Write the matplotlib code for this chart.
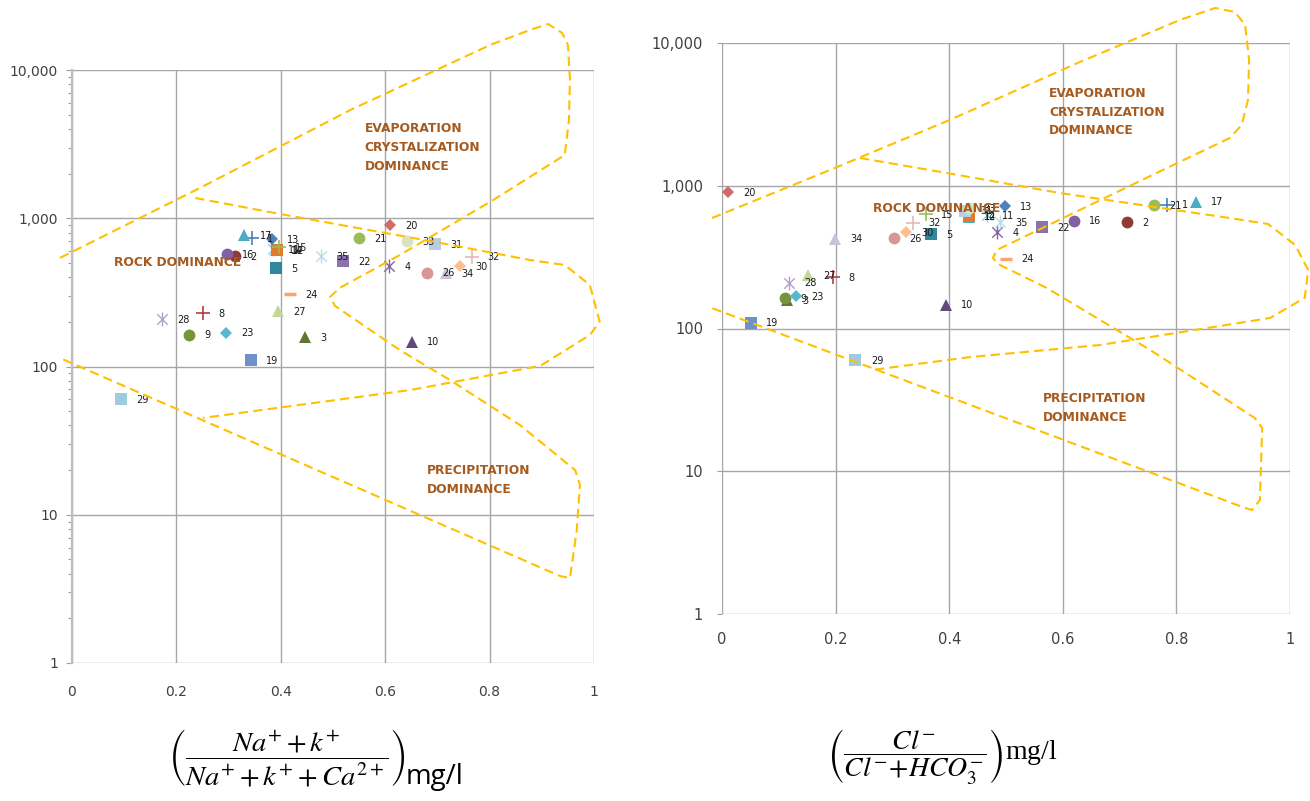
import numpy as np
import matplotlib
matplotlib.use('Agg')
import matplotlib.pyplot as plt
from matplotlib.path import Path
from matplotlib.ticker import FixedLocator, NullFormatter, LogLocator

plt.rcParams['font.family'] = ['DejaVu Sans']
plt.rcParams['mathtext.fontset'] = 'stix'

# ---------------- data ----------------
samples = [1, 2, 3, 4, 5, 8, 9, 10, 11, 14, 12, 13, 15, 16, 17, 19, 20, 21, 22,
           23, 24, 26, 27, 28, 29, 30, 31, 32, 33, 34, 35]
na_ratio = [0.345, 0.312, 0.446, 0.607, 0.391, 0.251, 0.224, 0.651, 0.385, 0.390,
            0.393, 0.383, 0.397, 0.297, 0.330, 0.343, 0.609, 0.550, 0.519, 0.295,
            0.418, 0.680, 0.395, 0.172, 0.094, 0.743, 0.695, 0.766, 0.642, 0.716, 0.477]
cl_ratio = [0.783, 0.713, 0.114, 0.484, 0.368, 0.196, 0.111, 0.394, 0.466, 0.435,
            0.435, 0.498, 0.359, 0.620, 0.834, 0.0505, 0.011, 0.761, 0.563, 0.130,
            0.4995, 0.302, 0.152, 0.1185, 0.235, 0.324, 0.428, 0.336, 0.434, 0.199, 0.489]
tds = [738, 555, 158, 473, 460, 228, 164, 147, 620, 608, 611, 723, 636, 570, 772,
       110, 897, 732, 512, 169, 308, 430, 237, 209, 60, 473, 670, 551, 700, 425, 554]
marker_kind = ['+', 'o', '^', 'ast', 's', '+', 'o', '^', 'ast', '^', 's', 'D', '+',
               'o', '^', 's', 'D', 'o', 's', 'D', '_', 'o', '^', 'ast', 's', 'D',
               's', '+', 'o', '^', 'ast']
marker_color = ['#4A7EBB', '#8E3B38', '#5F7530', '#8064A2', '#31859C', '#B0413E',
                '#77933C', '#604A7B', '#93CDDD', '#4BACC6', '#E07B2E', '#4F81BD',
                '#9BBB59', '#7E62A4', '#4BACC6', '#6E91C9', '#CD6C6A', '#9BBB59',
                '#8A72AD', '#5BB6CF', '#F9A66C', '#D99694', '#C3D69B', '#B3A2C7',
                '#9FCCDD', '#FAC090', '#B9CDE5', '#E6B9B8', '#D7E4BD', '#CCC1DA',
                '#B7DEE8']

y_ticks = [1, 10, 100, 1000, 10000]
y_tick_labels = ['1', '10', '100', '1,000', '10,000']
x_ticks = [0, 0.2, 0.4, 0.6, 0.8, 1.0]
x_tick_labels = ['0', '0.2', '0.4', '0.6', '0.8', '1']

# Gibbs envelopes (data coordinates)  -- left chart
left_outer_x = [-0.023, 0.245, 0.533, 0.801, 0.877, 0.912, 0.939, 0.950, 0.954, 0.952,
                0.944, 0.807, 0.628, 0.513, 0.494, 0.504, 0.628, 0.724, 0.858, 0.964,
                0.973, 0.967, 0.954, 0.935, -0.023]
left_outer_y = [540, 1600, 5370, 14750, 18600, 20420, 17780, 14750, 8570, 4600,
                2670, 1328, 565, 339, 294, 256, 129, 81.1, 40.3, 20.0,
                15.9, 7.89, 3.74, 3.86, 114]
left_rock_x = [0.236, 0.398, 0.686, 0.877, 0.944, 0.992, 1.011, 0.992, 0.897, 0.648, 0.251]
left_rock_y = [1370, 1069, 702, 523, 484, 355, 200, 163, 101, 69.4, 45]
# right chart
right_outer_x = [-0.0176, 0.190, 0.401, 0.630, 0.806, 0.868, 0.903, 0.921, 0.928, 0.926,
                 0.915, 0.894, 0.776, 0.484, 0.477, 0.486, 0.572, 0.754, 0.938, 0.951,
                 0.947, 0.933, 0.921, -0.0176]
right_outer_y = [594, 1289, 2890, 7360, 14490, 17590, 16490, 13370, 7600, 3990,
                 2665, 2160, 1289, 355, 312, 283, 192, 70.7, 23.6, 20.1,
                 6.29, 5.35, 5.53, 139]
right_rock_x = [0.243, 0.396, 0.595, 0.894, 0.961, 1.009, 1.032, 1.026, 0.965, 0.921,
                0.665, 0.437, 0.264]
right_rock_y = [1565, 1228, 889, 594, 540, 385, 257, 164, 118.6, 111, 76.6, 63.1, 51.2]

zone_color = '#A65A1E'
env_color = '#FFC000'
grid_color = '#A6A6A6'
tick_color = '#404040'

ast_path = Path([(0, -1), (0, 1), (-0.75, -0.75), (0.75, 0.75), (-0.75, 0.75), (0.75, -0.75)],
                [Path.MOVETO, Path.LINETO, Path.MOVETO, Path.LINETO, Path.MOVETO, Path.LINETO])
STYLE = {
    '+': dict(marker='+', ms=10, mew=1.2, filled=False),
    'o': dict(marker='o', ms=8.5, mew=0, filled=True),
    '^': dict(marker='^', ms=9, mew=0, filled=True),
    's': dict(marker='s', ms=8.5, mew=0, filled=True),
    'D': dict(marker='D', ms=6.5, mew=0, filled=True),
    '_': dict(marker='_', ms=9, mew=2.5, filled=False),
    'ast': dict(marker=ast_path, ms=10, mew=1.0, filled=False),
}

W, H = 1310, 801
fig = plt.figure(figsize=(W / 100, H / 100), dpi=100)
fig.patch.set_facecolor('white')

ax1 = fig.add_axes([72 / W, (H - 663) / H, 522 / W, 593 / H])
ax2 = fig.add_axes([722 / W, (H - 614) / H, 568 / W, 571 / H])


def setup(ax, minor, xpad, ysize):
    ax.set_yscale('log')
    ax.set_xlim(0, 1)
    ax.set_ylim(1, 10000)
    ax.yaxis.set_major_locator(FixedLocator(y_ticks))
    ax.set_yticklabels(y_tick_labels)
    ax.xaxis.set_major_locator(FixedLocator(x_ticks))
    ax.set_xticklabels(x_tick_labels)
    if minor:
        ax.yaxis.set_minor_locator(LogLocator(base=10, subs=np.arange(2, 10)))
        ax.yaxis.set_minor_formatter(NullFormatter())
        ax.tick_params(axis='y', which='minor', length=3, width=0.8, color='#A0A0A0',
                       direction='out')
        ax.tick_params(axis='y', which='major', length=4.5, width=0.8, color='#A0A0A0',
                       pad=5.5)
    else:
        ax.yaxis.set_minor_locator(FixedLocator([]))
        ax.tick_params(axis='y', which='major', length=3.6, width=0.8, color='#A0A0A0',
                       pad=10)
    ax.tick_params(axis='y', labelsize=ysize, labelcolor=tick_color)
    ax.tick_params(axis='x', length=0, pad=xpad, labelsize=ysize, labelcolor=tick_color)
    ax.grid(True, which='major', color=grid_color, lw=1)
    ax.set_axisbelow(True)
    for sp in ax.spines.values():
        sp.set_visible(False)


setup(ax1, True, 16, 10)
setup(ax2, False, 13, 10.5)
ax1.spines['left'].set_visible(True)
ax1.spines['left'].set_color('#BFBFBF')
ax1.spines['left'].set_linewidth(1.6)


def draw_points(ax, xs):
    for s, x, y, mk, c in zip(samples, xs, tds, marker_kind, marker_color):
        st = STYLE[mk]
        if st['filled']:
            ax.plot([x], [y], linestyle='none', marker=st['marker'], ms=st['ms'],
                    mfc=c, mec=c, mew=st['mew'], zorder=3, clip_on=False)
        else:
            ax.plot([x], [y], linestyle='none', marker=st['marker'], ms=st['ms'],
                    mfc='none', mec=c, mew=st['mew'], zorder=3, clip_on=False)
    for s, x, y in zip(samples, xs, tds):
        ax.annotate(str(s), (x, y), xytext=(11, -0.5), textcoords='offset points',
                    ha='left', va='center', fontsize=7, color='#1a1a1a', zorder=4)


draw_points(ax1, na_ratio)
draw_points(ax2, cl_ratio)

dash = (0, (4.5, 2.5))
for ax, (ox, oy), (rx, ry) in [
        (ax1, (left_outer_x, left_outer_y), (left_rock_x, left_rock_y)),
        (ax2, (right_outer_x, right_outer_y), (right_rock_x, right_rock_y))]:
    ax.plot(ox, oy, color=env_color, lw=1.5, linestyle=dash, clip_on=False, zorder=5)
    ax.plot(rx, ry, color=env_color, lw=1.5, linestyle=dash, clip_on=False, zorder=5)

zkw = dict(color=zone_color, fontsize=8.8, fontweight='bold', ha='left', va='center',
           zorder=6)
# left zone texts (axes fraction)
for txt, xf, yf in [('EVAPORATION', 0.561, 0.902), ('CRYSTALIZATION', 0.561, 0.870),
                    ('DOMINANCE', 0.561, 0.838), ('ROCK DOMINANCE', 0.0805, 0.676),
                    ('PRECIPITATION', 0.680, 0.325), ('DOMINANCE', 0.680, 0.293)]:
    ax1.text(xf, yf, txt, transform=ax1.transAxes, **zkw)
for txt, xf, yf in [('EVAPORATION', 0.576, 0.911), ('CRYSTALIZATION', 0.576, 0.879),
                    ('DOMINANCE', 0.576, 0.846), ('ROCK DOMINANCE', 0.266, 0.711),
                    ('PRECIPITATION', 0.565, 0.378), ('DOMINANCE', 0.565, 0.345)]:
    ax2.text(xf, yf, txt, transform=ax2.transAxes, **zkw)

# x-axis formula labels
fig.text(287 / W, 1 - 757 / H,
         r'$\left(\dfrac{Na^{+}+k^{+}}{Na^{+}+k^{+}+Ca^{2+}}\right)$',
         ha='center', va='center', fontsize=20.5)
fig.text(406 / W, 1 - 784 / H, 'mg/l', ha='left', va='baseline', fontsize=20,
         family=['Open Sans', 'DejaVu Sans'])
fig.text(942 / W, 1 - 756 / H,
         r'$\left(\dfrac{Cl^{-}}{Cl^{-}\!+\!HCO_{3}^{-}}\right)$mg/l',
         ha='center', va='center', fontsize=20, family=['Liberation Serif', 'DejaVu Serif'])

fig.savefig('out.png', dpi=100, facecolor='white')
